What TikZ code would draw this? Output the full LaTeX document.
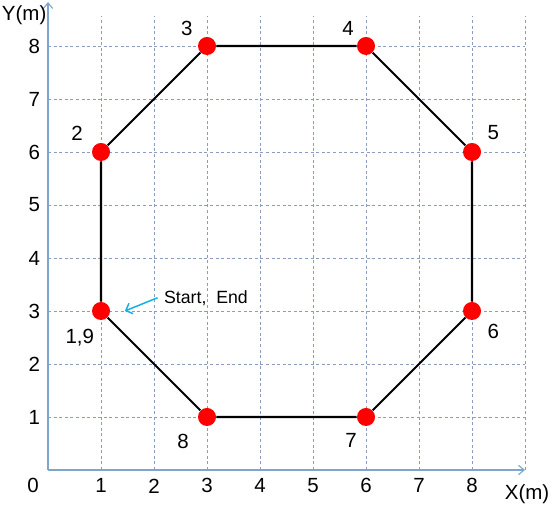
\documentclass[tikz,border=0pt]{standalone}
\usepackage{fontspec}
\setmainfont{Liberation Sans}
\usetikzlibrary{arrows.meta}
\definecolor{axisblue}{RGB}{125,165,205}
\definecolor{gridblue}{RGB}{140,155,190}
\definecolor{startcyan}{RGB}{20,175,235}
\tikzset{
  wp/.style={circle,fill=red,inner sep=0pt,minimum size=0.34cm},
  lbl/.style={font=\fontsize{11}{13}\selectfont},
  gridline/.style={gridblue,very thin,dash pattern=on 1.6pt off 1.4pt},
}
\begin{document}
\begin{tikzpicture}
\useasboundingbox (-0.906,-0.66) rectangle (9.528,8.868);
% grid
\foreach \x in {1,...,9}
  \draw[gridline] (\x,0) -- (\x,8.56);
\foreach \y in {1,...,8}
  \draw[gridline] (0,\y) -- (9,\y);
% axes
\coordinate (o) at (0,0);
\coordinate (xend) at (9,0);
\coordinate (yend) at (0,8.83);
\draw[axisblue,semithick,-{Straight Barb[length=3pt,width=5pt]}] (o) -- (xend);
\draw[axisblue,semithick,-{Straight Barb[length=3pt,width=5pt]}] (o) -- (yend);
\node[lbl,anchor=east,inner sep=1pt] (xlab) at (9.5,-0.45) {X(m)};
\node[lbl] (ylab) at (-0.45,8.58) {Y(m)};
\node[lbl] (t0) at (-0.28,-0.30) {0};
\foreach \x in {1,...,8}
  \node[lbl] (tx\x) at (\x,-0.30) {\x};
\foreach \y in {1,...,8}
  \node[lbl] (ty\y) at (-0.26,\y) {\y};
% way points
\foreach \n/\p in {1/{(1,3)},2/{(1,6)},3/{(3,8)},4/{(6,8)},5/{(8,6)},6/{(8,3)},7/{(6,1)},8/{(3,1)}}
  \node[wp] (p\n) at \p {};
\draw[black,line width=1.1pt] (p1) -- (p2) -- (p3) -- (p4) -- (p5) -- (p6) -- (p7) -- (p8) -- (p1);
% point labels
\node[lbl] (l1) at (0.6,2.49) {1,9};
\node[lbl] (l2) at (0.55,6.36) {2};
\node[lbl] (l3) at (2.62,8.34) {3};
\node[lbl] (l4) at (5.66,8.34) {4};
\node[lbl] (l5) at (8.4,6.36) {5};
\node[lbl] (l6) at (8.4,2.62) {6};
\node[lbl] (l7) at (5.72,0.55) {7};
\node[lbl] (l8) at (2.55,0.53) {8};
% start marker
\node[font=\fontsize{9.5}{11}\selectfont] (se) at (2.98,3.25) {Start,\ \ End};
\coordinate (tip) at (1.45,3.0);
\draw[startcyan,thick,-{Straight Barb[length=3pt,width=6pt]}] (se.west) -- (tip);
\end{tikzpicture}
\end{document}
